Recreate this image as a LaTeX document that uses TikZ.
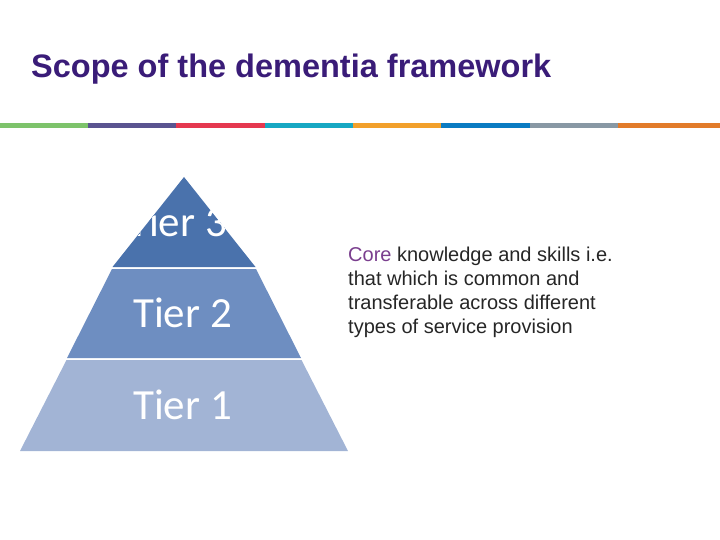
\documentclass[tikz,border=0pt]{standalone}
\usepackage{fontspec}
\setmainfont{Liberation Sans}
\newfontfamily\calfont{Carlito}
\definecolor{ttl}{HTML}{3A1C78}
\definecolor{core}{HTML}{7A3E8E}
\definecolor{lA}{HTML}{4A72AC}
\definecolor{lB}{HTML}{6E8EC1}
\definecolor{lC}{HTML}{A2B4D5}
\tikzset{tier/.style={anchor=west,text=white,font=\calfont\fontsize{43}{43}\selectfont,inner sep=0pt}}
\begin{document}
\begin{tikzpicture}[x=1pt,y=-1pt]
\useasboundingbox (0,0) rectangle (720,540);
\node[anchor=west,text=ttl,font=\bfseries\fontsize{32.5}{32.5}\selectfont,inner sep=0pt] (title) at (31,69) {Scope of the dementia framework};
\foreach \a/\b/\c in {0/88/7DC36B,88/176/5A5490,176/265/E5384F,265/353/17A8C3,353/441/F2A02B,441/530/0A7BC2,530/618/8898A4,618/720/E27B2A}{
  \definecolor{bc}{HTML}{\c}\fill[bc] (\a,123) rectangle (\b,128);}
% pyramid layers
\fill[lC] (20,451) -- (348,451) -- (301.5,360) -- (66.5,360) -- cycle;
\fill[lB] (67,358) -- (301,358) -- (256,269) -- (112,269) -- cycle;
\begin{scope}
\clip (112.5,267) -- (255.5,267) -- (184,177) -- cycle;
\fill[lA] (100,170) rectangle (270,270);
\node[tier] (t3) at (128,222) {Tier 3};
\end{scope}
\node[tier] (t2) at (133,313) {Tier 2};
\node[tier] (t1) at (133,405) {Tier 1};
\node[anchor=north west,align=left,font=\fontsize{20}{24}\selectfont,inner sep=0pt,text=black!85] (txt) at (348,247) {\textcolor{core}{Core} knowledge and skills i.e.\\that which is common and\\transferable across different\\types of service provision};
\end{tikzpicture}
\end{document}
